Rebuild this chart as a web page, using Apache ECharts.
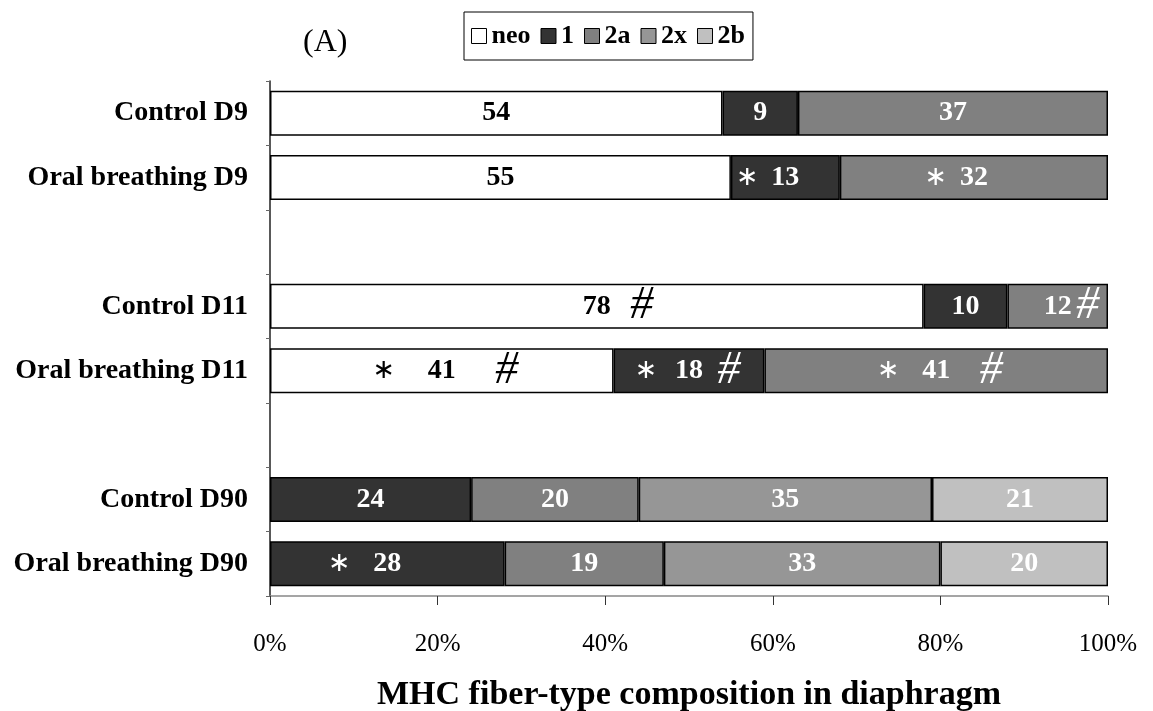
<!DOCTYPE html>
<html>
<head>
<meta charset="utf-8">
<script src="https://cdn.jsdelivr.net/npm/echarts@6/dist/echarts.min.js"></script>
<style>
  html, body { margin: 0; padding: 0; background: #fff; }
  #chart { width: 1153px; height: 711px; }
</style>
</head>
<body>
<div id="chart"></div>
<script>
// Groups, top to bottom; empty names are spacer rows between time points
const categories = ['Control D9', 'Oral breathing D9', '', 'Control D11', 'Oral breathing D11', '', 'Control D90', 'Oral breathing D90'];

// MHC isoform shares (%) per group
const neo    = [54, 55, null, 78, 41, null, null, null];
const type1  = [9, 13, null, 10, 18, null, 24, 28];
const type2a = [37, 32, null, 12, 41, null, 20, 19];
const type2x = [null, null, null, null, null, null, 35, 33];
const type2b = [null, null, null, null, null, null, 21, 20];

// Label templates: {v} is the value, '*' = vs control, '#' = vs previous time point
const neoNotes    = ['', '', '', '{v}    #', '*       {v}        #', '', '', ''];
const type1Notes  = ['', '*   {v}', '', '', '*    {v}   #', '', '', '*     {v}'];
const type2aNotes = ['', '*   {v}', '', '{v} #', '*     {v}      #', '', '', ''];
const type2xNotes = ['', '', '', '', '', '', '', ''];
const type2bNotes = ['', '', '', '', '', '', '', ''];

const xTicks = [0, 20, 40, 60, 80, 100];

const SERIF = 'Liberation Serif';
const SPACE_PX = 5;     // width of one space in the label templates
const STAR_BOX = 18;
const HASH_BOX = 22;

function spaces(s) { return (s.match(/ /g) || []).length; }

function makeLabel(notes, color) {
  return {
    show: true,
    position: 'inside',
    formatter: function (p) {
      const tpl = notes[p.dataIndex] || '';
      if (!tpl) return '{n|' + p.value + '}';
      const parts = tpl.split('{v}');
      const left = parts[0], right = parts[1] || '';
      const hasStar = left.indexOf('*') >= 0;
      const hasHash = right.indexOf('#') >= 0;
      const gapL = hasStar ? spaces(left) * SPACE_PX : 0;
      const gapR = hasHash ? spaces(right) * SPACE_PX : 0;
      const wL = (hasStar ? STAR_BOX : 0) + gapL;
      const wR = (hasHash ? HASH_BOX : 0) + gapR;
      const w = Math.max(wL, wR);
      // pad the shorter side so the value stays centred in its segment
      let out = '';
      if (w - wL > 0) out += '{sp' + Math.round(w - wL) + '| }';
      if (hasStar) out += '{s|∗}';
      if (gapL > 0) out += '{sp' + gapL + '| }';
      out += '{n|' + p.value + '}';
      if (gapR > 0) out += '{sp' + gapR + '| }';
      if (hasHash) out += '{h|#}';
      if (w - wR > 0) out += '{sp' + Math.round(w - wR) + '| }';
      return out;
    },
    rich: (function () {
      const r = {
        n: { fontFamily: SERIF, fontWeight: 'bold', fontSize: 28, color: color, lineHeight: 40, verticalAlign: 'middle' },
        s: { fontFamily: 'DejaVu Sans', fontWeight: 'normal', fontSize: 27, color: color, width: STAR_BOX, align: 'right', lineHeight: 40, verticalAlign: 'middle' },
        h: { fontFamily: SERIF, fontStyle: 'italic', fontWeight: 'normal', fontSize: 46, color: color, width: HASH_BOX, align: 'left', lineHeight: 40, verticalAlign: 'middle' }
      };
      for (let i = 1; i <= 120; i++) {
        r['sp' + i] = { fontSize: 8, width: i, lineHeight: 40 };
      }
      return r;
    })()
  };
}

function makeSeries(name, data, color, notes, textColor) {
  return {
    name: name,
    type: 'bar',
    stack: 'total',
    barWidth: '70%',
    data: data,
    itemStyle: { color: color, borderColor: '#000', borderWidth: 1.5 },
    label: makeLabel(notes, textColor),
    emphasis: { disabled: true }
  };
}

const chart = echarts.init(document.getElementById('chart'), null, { renderer: 'canvas' });

chart.setOption({
  animation: false,
  backgroundColor: '#fff',
  title: {
    text: '(A)',
    left: 298,
    top: 22,
    textStyle: { fontFamily: SERIF, fontWeight: 'normal', fontSize: 32, color: '#000' }
  },
  legend: {
    data: ['neo', '1', '2a', '2x', '2b'],
    left: 464,
    top: 12,
    icon: 'rect',
    itemWidth: 15,
    itemHeight: 15,
    itemGap: 10,
    padding: [11, 8, 11, 7],
    borderColor: '#000',
    borderWidth: 1,
    selectedMode: false,
    itemStyle: { borderColor: '#000', borderWidth: 1 },
    textStyle: { fontFamily: SERIF, fontWeight: 'bold', fontSize: 26, color: '#000' }
  },
  grid: { left: 270, right: 45, top: 81, bottom: 115, containLabel: false, outerBoundsMode: 'none' },
  xAxis: {
    type: 'value',
    min: xTicks[0],
    max: xTicks[xTicks.length - 1],
    interval: xTicks[1] - xTicks[0],
    name: 'MHC fiber-type composition in diaphragm',
    nameLocation: 'middle',
    nameGap: 82,
    nameTextStyle: { fontFamily: SERIF, fontWeight: 'bold', fontSize: 34, color: '#000', verticalAlign: 'top' },
    axisLine: { show: true, lineStyle: { color: '#888', width: 1.5 } },
    axisTick: { show: true, length: 9, lineStyle: { color: '#333' } },
    axisLabel: { formatter: '{value}%', margin: 36, fontFamily: SERIF, fontSize: 25, color: '#000' },
    splitLine: { show: false }
  },
  yAxis: {
    type: 'category',
    inverse: true,
    data: categories,
    axisLine: { show: true, lineStyle: { color: '#222', width: 1.5 } },
    axisTick: { show: true, length: 4, inside: false, lineStyle: { color: '#666' } },
    axisLabel: { margin: 22, fontFamily: SERIF, fontWeight: 'bold', fontSize: 28, color: '#000' }
  },
  series: [
    makeSeries('neo', neo, '#ffffff', neoNotes, '#000'),
    makeSeries('1', type1, '#333333', type1Notes, '#fff'),
    makeSeries('2a', type2a, '#808080', type2aNotes, '#fff'),
    makeSeries('2x', type2x, '#969696', type2xNotes, '#fff'),
    makeSeries('2b', type2b, '#c0c0c0', type2bNotes, '#fff')
  ]
});
</script>
</body>
</html>
